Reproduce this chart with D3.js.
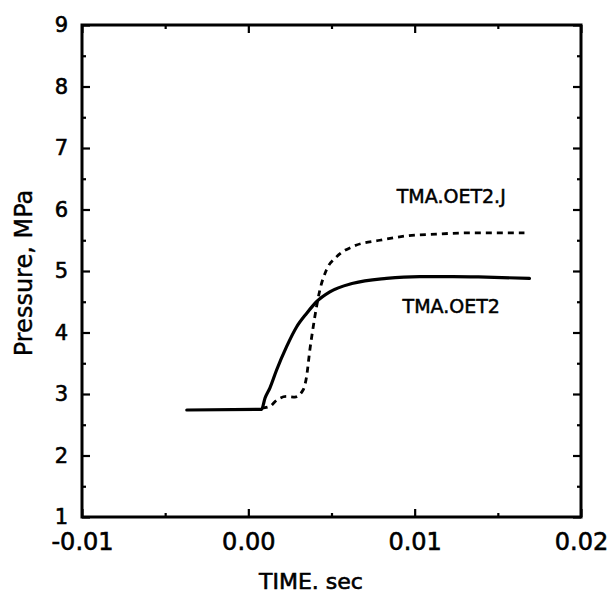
<!DOCTYPE html>
<html><head><meta charset="utf-8">
<script src="https://cdn.jsdelivr.net/npm/d3@7"></script>
<style>body{margin:0;background:#fff}svg{display:block}</style>
</head><body>
<svg id="c" width="609" height="596"></svg>
<script>
const xTicks = [-0.01, 0.00, 0.01, 0.02];
const xTickLabels = ["-0.01", "0.00", "0.01", "0.02"];
const xMinor = [-0.005, 0.005, 0.015];
const yTicks = [1, 2, 3, 4, 5, 6, 7, 8, 9];
const yMinor = [1.5, 2.5, 3.5, 4.5, 5.5, 6.5, 7.5, 8.5];

const solidTime = [-0.0037, 0.0008, 0.0010, 0.0013, 0.0017, 0.0023, 0.0029, 0.0035, 0.0041, 0.0049, 0.0063, 0.0083, 0.0103, 0.0123, 0.0143, 0.0169];
const solidP    = [2.74, 2.75, 2.93, 3.10, 3.39, 3.77, 4.09, 4.31, 4.50, 4.66, 4.80, 4.88, 4.91, 4.91, 4.90, 4.88];

const dashTime = [0.0008, 0.0013, 0.0017, 0.0023, 0.0028, 0.0033, 0.0035, 0.0037, 0.0039, 0.0041, 0.0043, 0.0047, 0.0053, 0.0063, 0.0079, 0.0095, 0.0113, 0.0133, 0.0166];
const dashP    = [2.77, 2.80, 2.90, 2.96, 2.95, 3.07, 3.28, 3.72, 4.09, 4.42, 4.69, 5.02, 5.23, 5.40, 5.50, 5.57, 5.60, 5.62, 5.62];

const labels = [
  {text: "TMA.OET2.J", t: 0.0122, p: 6.11},
  {text: "TMA.OET2", t: 0.0122, p: 4.32}
];

const svg = d3.select("#c");
const x = d3.scaleLinear().domain([-0.01, 0.02]).range([82, 581]);
const y = d3.scaleLinear().domain([1, 9]).range([517, 25]);
const font = "'DejaVu Sans', sans-serif";

function styleAxis(g, size) {
  g.select(".domain").remove();
  g.selectAll(".tick line").attr("stroke", "#000").attr("stroke-width", 2.2);
  g.selectAll(".tick text").attr("fill", "#000").attr("font-family", font).attr("font-size", size)
    .attr("stroke", "#000").attr("stroke-width", 0.6);
}

svg.append("g").attr("transform", "translate(0,517)")
  .call(d3.axisBottom(x).tickValues(xTicks).tickSize(-8).tickPadding(16)
        .tickFormat((d, i) => xTickLabels[i]))
  .call(g => styleAxis(g, 24));
svg.append("g").attr("transform", "translate(0,25)")
  .call(d3.axisTop(x).tickValues(xTicks).tickSize(-8).tickFormat(""))
  .call(g => styleAxis(g, 0));
svg.append("g").attr("transform", "translate(82,0)")
  .call(d3.axisLeft(y).tickValues(yTicks).tickSize(-8).tickPadding(14).tickFormat(d3.format("d")))
  .call(g => styleAxis(g, 21));
svg.append("g").attr("transform", "translate(581,0)")
  .call(d3.axisRight(y).tickValues(yTicks).tickSize(-8).tickFormat(""))
  .call(g => styleAxis(g, 0));
svg.append("g").attr("transform", "translate(0,517)")
  .call(d3.axisBottom(x).tickValues(xMinor).tickSize(-4).tickFormat(""))
  .call(g => styleAxis(g, 0));
svg.append("g").attr("transform", "translate(0,25)")
  .call(d3.axisTop(x).tickValues(xMinor).tickSize(-4).tickFormat(""))
  .call(g => styleAxis(g, 0));
svg.append("g").attr("transform", "translate(82,0)")
  .call(d3.axisLeft(y).tickValues(yMinor).tickSize(-4).tickFormat(""))
  .call(g => styleAxis(g, 0));
svg.append("g").attr("transform", "translate(581,0)")
  .call(d3.axisRight(y).tickValues(yMinor).tickSize(-4).tickFormat(""))
  .call(g => styleAxis(g, 0));

svg.append("rect").attr("x", x(-0.01)).attr("y", y(9))
  .attr("width", x(0.02) - x(-0.01)).attr("height", y(1) - y(9))
  .attr("fill", "none").attr("stroke", "#000").attr("stroke-width", 3);

const line = d3.line().x(d => x(d[0])).y(d => y(d[1])).curve(d3.curveMonotoneX);
svg.append("path").datum(dashTime.map((t, i) => [t, dashP[i]]))
  .attr("d", line).attr("fill", "none").attr("stroke", "#000")
  .attr("stroke-width", 2.8).attr("stroke-dasharray", "6,5");
svg.append("path").datum(solidTime.map((t, i) => [t, solidP[i]]))
  .attr("d", line).attr("fill", "none").attr("stroke", "#000")
  .attr("stroke-width", 3.2).attr("stroke-linecap", "round");

labels.forEach(l => {
  svg.append("text").attr("x", x(l.t)).attr("y", y(l.p))
    .attr("text-anchor", "middle").attr("font-family", font)
    .attr("font-size", 19).attr("fill", "#000").attr("stroke", "#000").attr("stroke-width", 0.5)
    .text(l.text);
});

svg.append("text").attr("x", 311).attr("y", 589).attr("text-anchor", "middle")
  .attr("font-family", font).attr("font-size", 22).attr("fill", "#000")
  .attr("stroke", "#000").attr("stroke-width", 0.6).text("TIME. sec");
svg.append("text").attr("transform", "translate(32,273) rotate(-90)").attr("text-anchor", "middle")
  .attr("font-family", font).attr("font-size", 24).attr("fill", "#000")
  .attr("stroke", "#000").attr("stroke-width", 0.4).text("Pressure, MPa");
</script>
</body></html>
